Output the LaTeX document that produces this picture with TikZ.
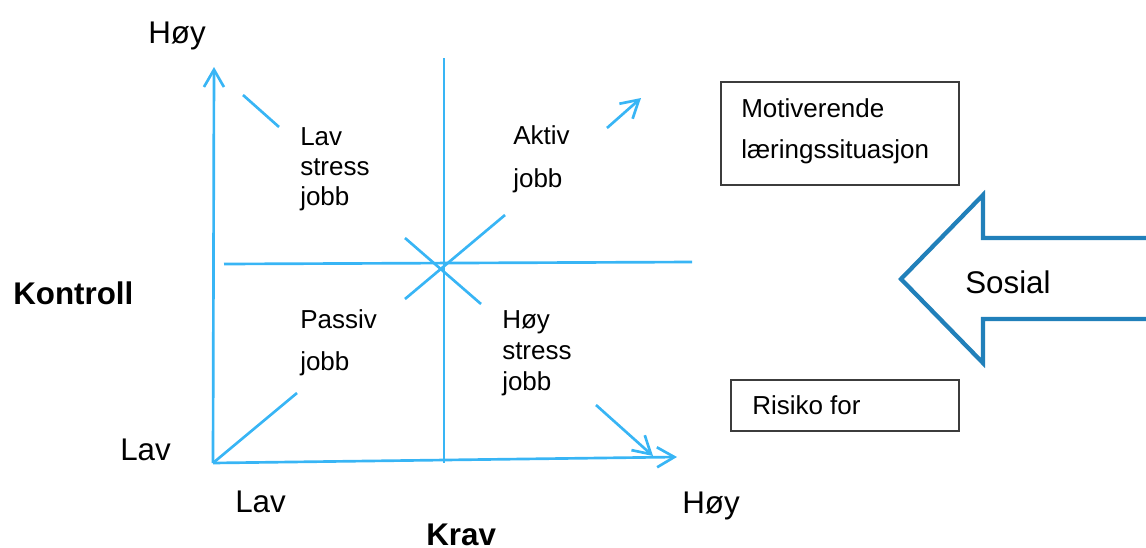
\documentclass[tikz,border=0pt]{standalone}
\usepackage{fontspec}
\setmainfont{Liberation Sans}
\usetikzlibrary{arrows.meta}
\definecolor{axisblue}{RGB}{56,181,245}
\definecolor{sosialblue}{RGB}{33,128,186}
\definecolor{boxgray}{RGB}{60,60,60}
\tikzset{
  axisline/.style={draw=axisblue, line width=2pt},
  tipline/.style={axisline, -{Straight Barb[length=13pt,width=15pt]}},
  smalltext/.style={anchor=base west, inner sep=0pt, align=left},
  bigtext/.style={anchor=base west, inner sep=0pt, font=\fontsize{23.5pt}{28pt}\selectfont},
  boldtext/.style={bigtext, font=\fontsize{23.5pt}{28pt}\selectfont\bfseries},
  boxframe/.style={draw=boxgray, line width=1.1pt},
}
\begin{document}
\begin{tikzpicture}[x=0.75pt,y=-0.75pt]
\useasboundingbox (0,0) rectangle (1146,547);
% coordinates
\coordinate (o) at (213,463);
\coordinate (ytop) at (214,67);
\coordinate (xend) at (677,457);
\coordinate (vtop) at (444,58);
\coordinate (vbot) at (444,463);
\coordinate (hleft) at (224,264);
\coordinate (hright) at (692,262);
\coordinate (d1a) at (297,393);
\coordinate (d1b) at (405,299);
\coordinate (d1c) at (505,215);
\coordinate (d1d) at (607,128);
\coordinate (d1e) at (641,98);
\coordinate (d2a) at (243,95);
\coordinate (d2b) at (279,127);
\coordinate (d2c) at (405,238);
\coordinate (d2d) at (481,304);
\coordinate (d2e) at (596,405);
\coordinate (d2f) at (653,456);
% axes
\draw[tipline] (o) -- (ytop);
\draw[tipline] (o) -- (xend);
\draw[axisline] (vtop) -- (vbot);
\draw[axisline] (hleft) -- (hright);
% diagonals
\draw[axisline] (o) -- (d1a);
\draw[axisline] (d1b) -- (d1c);
\draw[tipline] (d1d) -- (d1e);
\draw[axisline] (d2a) -- (d2b);
\draw[axisline] (d2c) -- (d2d);
\draw[tipline] (d2e) -- (d2f);
% quadrant labels (anchored at the baseline of the last line)
\node[smalltext, font=\fontsize{19.5pt}{22.5pt}\selectfont] (lavstress) at (300,205) {Lav\\stress\\jobb};
\node[smalltext, font=\fontsize{19.5pt}{32.25pt}\selectfont] (aktiv) at (513,187) {Aktiv\\jobb};
\node[smalltext, font=\fontsize{19.5pt}{31.5pt}\selectfont] (passiv) at (300,370) {Passiv\\jobb};
\node[smalltext, font=\fontsize{19.5pt}{22.9pt}\selectfont] (hoystress) at (502,390) {Høy\\stress\\jobb};
% axis labels
\node[bigtext] (hoyy) at (148,43) {Høy};
\node[boldtext] (kontroll) at (13,304) {Kontroll};
\node[bigtext] (lavy) at (120,460) {Lav};
\node[bigtext] (lavx) at (235,512) {Lav};
\node[bigtext] (hoyx) at (682,513) {Høy};
\node[boldtext] (krav) at (426,545) {Krav};
% boxes
\draw[boxframe] (721,82) rectangle (959,185);
\node[smalltext, font=\fontsize{19.5pt}{30.75pt}\selectfont] (motiv) at (741,158) {Motiverende\\læringssituasjon};
\draw[boxframe] (731,380) rectangle (959,431);
\node[smalltext, font=\fontsize{19.5pt}{22.5pt}\selectfont] (risiko) at (752,414) {Risiko for};
% Sosial arrow
\draw[draw=sosialblue, line width=3.2pt, line join=miter]
  (1160,238) -- (983,238) -- (983,195) -- (901,279) -- (983,363) -- (983,319) -- (1160,319);
\node[bigtext] (sosial) at (965,293) {Sosial};
\end{tikzpicture}
\end{document}
